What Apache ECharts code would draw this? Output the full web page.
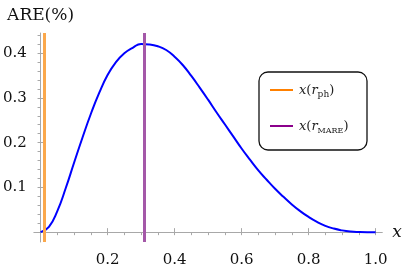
<!DOCTYPE html>
<html><head><meta charset="utf-8">
<script src="https://cdn.jsdelivr.net/npm/echarts@6/dist/echarts.min.js"></script>
<style>html,body{margin:0;padding:0;background:#fff}#c{width:407px;height:268px}</style>
</head><body><div id="c"></div>
<script>
// ---- data ----
const xs = [0,0.025,0.05,0.075,0.1,0.125,0.15,0.175,0.2,0.225,0.25,0.275,0.3,0.325,0.35,0.375,0.4,0.425,0.45,0.475,0.5,0.525,0.55,0.575,0.6,0.625,0.65,0.675,0.7,0.725,0.75,0.775,0.8,0.825,0.85,0.875,0.9,0.925,0.95,0.975,1.0];
const are = [0,0.012,0.047,0.098,0.155,0.211,0.264,0.311,0.351,0.380,0.400,0.412,0.4205,0.4195,0.4155,0.407,0.392,0.373,0.349,0.323,0.296,0.268,0.241,0.214,0.187,0.162,0.138,0.117,0.097,0.079,0.062,0.047,0.034,0.023,0.014,0.008,0.004,0.0015,0.0004,0,0];
const xRph = 0.012;
const xRmare = 0.313;
const xTickLabels = [0.2,0.4,0.6,0.8,1.0];
const xMinorTicks = [0,0.05,0.1,0.15,0.2,0.25,0.3,0.35,0.4,0.45,0.5,0.55,0.6,0.65,0.7,0.75,0.8,0.85,0.9,0.95,1.0];
const yTickLabels = [0.1,0.2,0.3,0.4];
const yMinorTicks = [0.02,0.04,0.06,0.08,0.1,0.12,0.14,0.16,0.18,0.2,0.22,0.24,0.26,0.28,0.3,0.32,0.34,0.36,0.38,0.4,0.42,0.44];

const serif = '"DejaVu Serif", "Liberation Serif", serif';
const axisCol = '#a8a8a8';
const chart = echarts.init(document.getElementById('c'), null, {renderer:'canvas'});
chart.setOption({
  animation:false,
  grid:{left:31.8, right:24.7, top:33, bottom:18, containLabel:false},
  xAxis:[{
    type:'value', min:-0.02, max:1.02,
    name:'x', nameLocation:'end', nameGap:10,
    nameTextStyle:{fontFamily:serif, fontStyle:'italic', fontSize:17, color:'#111', verticalAlign:'middle', padding:[0,0,4,0]},
    axisLine:{show:true, onZero:true, lineStyle:{color:axisCol, width:1}},
    axisTick:{show:true, inside:true, length:4, customValues:xTickLabels, lineStyle:{color:axisCol}},
    axisLabel:{show:true, customValues:xTickLabels, margin:11, fontFamily:serif, fontSize:15, color:'#111', formatter:v=>v.toFixed(1)},
    splitLine:{show:false}
  },{
    type:'value', min:-0.02, max:1.02,
    axisLine:{show:false, onZero:true},
    axisTick:{show:true, inside:true, length:3, customValues:xMinorTicks, lineStyle:{color:axisCol}},
    axisLabel:{show:false}, splitLine:{show:false}
  }],
  yAxis:[{
    type:'value', min:-0.022, max:0.445,
    name:'ARE(%)', nameLocation:'end', nameGap:9,
    nameTextStyle:{fontFamily:serif, fontSize:17, color:'#111', align:'center'},
    axisLine:{show:true, onZero:true, lineStyle:{color:axisCol, width:1}},
    axisTick:{show:true, inside:true, length:4, customValues:yTickLabels, lineStyle:{color:axisCol}},
    axisLabel:{show:true, customValues:yTickLabels, margin:7, fontFamily:serif, fontSize:15, color:'#111', formatter:v=>v.toFixed(1)},
    splitLine:{show:false}
  },{
    type:'value', min:-0.022, max:0.445,
    axisLine:{show:false, onZero:true},
    axisTick:{show:true, inside:true, length:3, customValues:yMinorTicks, lineStyle:{color:axisCol}},
    axisLabel:{show:false}, splitLine:{show:false}
  }],
  series:[{
    type:'line', xAxisIndex:0, yAxisIndex:0,
    data: xs.map((x,i)=>[x, are[i]]),
    smooth:0.5, showSymbol:false, symbol:'none',
    lineStyle:{color:'#0000ff', width:2},
    z:3,
    markLine:{
      silent:true, symbol:['none','none'], label:{show:false},
      data:[
        {xAxis:xRph, lineStyle:{color:'#fba84c', width:3, type:'solid'}},
        {xAxis:xRmare, lineStyle:{color:'#a458a8', width:3, type:'solid'}}
      ]
    }
  }],
  graphic:[
    {type:'rect', shape:{x:259, y:72, width:108, height:78, r:9}, style:{fill:'#fff', stroke:'#111', lineWidth:1.3}, z:10},
    {type:'line', shape:{x1:270, y1:90, x2:293, y2:90}, style:{stroke:'#ff8000', lineWidth:2}, z:11},
    {type:'line', shape:{x1:270, y1:126, x2:293, y2:126}, style:{stroke:'#8b008b', lineWidth:2}, z:11},
    {type:'text', x:299, y:91, z:11, style:{
      text:'{i|x}{n|(}{i|r}{s|ph}{n|)}', verticalAlign:'middle', fill:'#222',
      rich:{i:{fontFamily:serif, fontStyle:'italic', fontSize:13, fill:'#222'}, n:{fontFamily:serif, fontSize:13, fill:'#222'}, s:{fontFamily:serif, fontSize:9, fill:'#222', padding:[7,0,0,0]}}
    }},
    {type:'text', x:299, y:127, z:11, style:{
      text:'{i|x}{n|(}{i|r}{s|MARE}{n|)}', verticalAlign:'middle', fill:'#222',
      rich:{i:{fontFamily:serif, fontStyle:'italic', fontSize:13, fill:'#222'}, n:{fontFamily:serif, fontSize:13, fill:'#222'}, s:{fontFamily:serif, fontSize:8, fill:'#222', padding:[7,0,0,0]}}
    }}
  ]
});
</script></body></html>
